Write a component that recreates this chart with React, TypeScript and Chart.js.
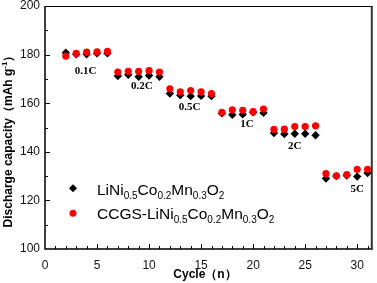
import React, { useEffect, useRef } from "react";
import { Chart, registerables } from "chart.js";

Chart.register(...registerables);

const cycles = [2, 3, 4, 5, 6, 7, 8, 9, 10, 11, 12, 13, 14, 15, 16, 17, 18, 19, 20, 21, 22, 23, 24, 25, 26, 27, 28, 29, 30, 31];
const pristine = [180.8, 180.1, 180.1, 180.5, 180.5, 171.2, 171.7, 170.9, 171.4, 170.9, 164.0, 163.3, 162.9, 163.0, 162.9, 155.8, 155.2, 155.4, 156.3, 156.0, 147.7, 147.3, 147.4, 147.4, 146.8, 129.0, 130.0, 130.2, 129.8, 131.3];
const ccgs = [179.4, 180.5, 181.0, 181.1, 181.3, 172.8, 173.1, 173.1, 173.4, 172.8, 165.9, 164.7, 165.2, 164.7, 164.0, 156.2, 157.3, 157.1, 156.5, 157.6, 149.2, 149.3, 150.4, 150.4, 150.7, 131.0, 130.1, 130.6, 132.8, 132.8];
const xTicks = [0, 5, 10, 15, 20, 25, 30];
const rateLabels = ["0.1C", "0.2C", "0.5C", "1C", "2C", "5C"];
const rateX = [3.9, 9.3, 13.9, 19.4, 24.0, 30.0];
const rateY = [173.3, 167.1, 158.4, 151.4, 142.5, 124.7];

const SANS = "'Liberation Sans', Arial, sans-serif";
const SERIF = "'Liberation Serif', 'Times New Roman', serif";

function drawFormula(ctx: CanvasRenderingContext2D, parts: [string, boolean][], x: number, y: number) {
  let cx = x;
  for (const [t, sub] of parts) {
    ctx.font = sub ? `10px ${SANS}` : `15.5px ${SANS}`;
    ctx.fillText(t, cx, sub ? y + 4 : y);
    cx += ctx.measureText(t).width;
  }
}

const decorPlugin = {
  id: "decor",
  afterDraw(chart: any) {
    const ctx: CanvasRenderingContext2D = chart.ctx;
    const { left, right, top, bottom } = chart.chartArea;
    const xs = chart.scales.x;
    const ys = chart.scales.y;
    ctx.save();
    ctx.strokeStyle = "#000";
    // frame
    ctx.lineWidth = 1.5;
    ctx.beginPath();
    ctx.moveTo(left, top);
    ctx.lineTo(left, bottom);
    ctx.lineTo(right, bottom);
    ctx.stroke();
    ctx.lineWidth = 1;
    ctx.beginPath();
    ctx.moveTo(left, top + 0.5);
    ctx.lineTo(right, top + 0.5);
    ctx.stroke();
    ctx.strokeStyle = "#333";
    ctx.lineWidth = 2;
    ctx.beginPath();
    ctx.moveTo(right - 1, top);
    ctx.lineTo(right - 1, bottom);
    ctx.stroke();
    // ticks
    ctx.strokeStyle = "#000";
    ctx.lineWidth = 1;
    for (let v = 1; v <= 31; v++) {
      const px = Math.round(xs.getPixelForValue(v)) + 0.5;
      const len = v % 5 === 0 ? 5 : 3;
      ctx.beginPath();
      ctx.moveTo(px, bottom);
      ctx.lineTo(px, bottom - len);
      ctx.stroke();
    }
    for (let v = 110; v < 200; v += 10) {
      const py = Math.round(ys.getPixelForValue(v)) + 0.5;
      const len = v % 20 === 0 ? 5 : 3;
      ctx.beginPath();
      ctx.moveTo(left, py);
      ctx.lineTo(left + len, py);
      ctx.stroke();
    }
    // rate labels
    ctx.fillStyle = "#000";
    ctx.font = `bold 11px ${SERIF}`;
    ctx.textAlign = "center";
    ctx.textBaseline = "middle";
    rateLabels.forEach((t, i) => {
      ctx.fillText(t, xs.getPixelForValue(rateX[i]), ys.getPixelForValue(rateY[i]));
    });
    // legend
    ctx.fillStyle = "#000";
    ctx.beginPath();
    const dx = 73, dy = 188.3, r = 4;
    ctx.moveTo(dx, dy - r);
    ctx.lineTo(dx + r, dy);
    ctx.lineTo(dx, dy + r);
    ctx.lineTo(dx - r, dy);
    ctx.closePath();
    ctx.fill();
    ctx.fillStyle = "#ff0000";
    ctx.beginPath();
    ctx.arc(73, 213.3, 3.5, 0, Math.PI * 2);
    ctx.fill();
    ctx.fillStyle = "#000";
    ctx.textAlign = "left";
    ctx.textBaseline = "alphabetic";
    drawFormula(ctx, [["LiNi", false], ["0.5", true], ["Co", false], ["0.2", true], ["Mn", false], ["0.3", true], ["O", false], ["2", true]], 97, 194.5);
    drawFormula(ctx, [["CCGS-LiNi", false], ["0.5", true], ["Co", false], ["0.2", true], ["Mn", false], ["0.3", true], ["O", false], ["2", true]], 97, 219);
    // axis titles
    ctx.font = `bold 12px ${SANS}`;
    ctx.textAlign = "center";
    ctx.textBaseline = "middle";
    ctx.fillText("Cycle（n）", 205, 275);
    ctx.save();
    ctx.translate(9, 138.5);
    ctx.rotate(-Math.PI / 2);
    const p1 = "Discharge capacity（mAh g";
    const p2 = "-1";
    const p3 = "）";
    ctx.font = `bold 12px ${SANS}`;
    const w1 = ctx.measureText(p1).width;
    const w3 = ctx.measureText(p3).width;
    ctx.font = `bold 8px ${SANS}`;
    const w2 = ctx.measureText(p2).width;
    let sx = -(w1 + w2 + w3) / 2;
    ctx.textAlign = "left";
    ctx.font = `bold 12px ${SANS}`;
    ctx.fillText(p1, sx, 0);
    sx += w1;
    ctx.font = `bold 8px ${SANS}`;
    ctx.fillText(p2, sx, -4);
    sx += w2;
    ctx.font = `bold 12px ${SANS}`;
    ctx.fillText(p3, sx, 0);
    ctx.restore();
    ctx.restore();
  },
};

export default function App() {
  const ref = useRef<HTMLCanvasElement>(null);
  useEffect(() => {
    if (!ref.current) return;
    const chart = new Chart(ref.current, {
      type: "scatter",
      data: {
        datasets: [
          {
            label: "CCGS-LiNi0.5Co0.2Mn0.3O2",
            data: cycles.map((c, i) => ({ x: c, y: ccgs[i] })),
            pointStyle: "circle",
            pointRadius: 3.6,
            pointBorderWidth: 0,
            backgroundColor: "#ff0000",
            borderColor: "#ff0000",
          },
          {
            label: "LiNi0.5Co0.2Mn0.3O2",
            data: cycles.map((c, i) => ({ x: c, y: pristine[i] })),
            pointStyle: "rectRot",
            pointRadius: 4.2,
            pointBorderWidth: 0,
            backgroundColor: "#000",
            borderColor: "#000",
          },
        ],
      },
      options: {
        animation: false,
        responsive: false,
        events: [],
        layout: { padding: { top: 6, right: 4, left: 0, bottom: 0 } },
        plugins: { legend: { display: false }, tooltip: { enabled: false } },
        scales: {
          x: {
            type: "linear",
            min: 0,
            max: 31.5,
            grid: { display: false, drawTicks: false },
            border: { display: false },
            afterBuildTicks: (s: any) => {
              s.ticks = xTicks.map((v) => ({ value: v }));
            },
            afterFit: (s: any) => {
              s.height = 34;
              s.paddingLeft = 0;
              s.paddingRight = 0;
            },
            ticks: { padding: 9, color: "#111", font: { size: 12, family: SANS }, maxRotation: 0, autoSkip: false },
          },
          y: {
            type: "linear",
            min: 100,
            max: 200,
            grid: { display: false, drawTicks: false },
            border: { display: false },
            afterFit: (s: any) => {
              s.width = 45;
              s.paddingTop = 0;
              s.paddingBottom = 0;
            },
            ticks: { stepSize: 20, padding: 5, color: "#111", font: { size: 12, family: SANS } },
          },
        },
      },
      plugins: [decorPlugin],
    });
    return () => chart.destroy();
  }, []);
  return (
    <div style={{ position: "fixed", left: 0, top: 0, width: 377, height: 283, background: "#fff" }}>
      <canvas ref={ref} width={377} height={283} />
    </div>
  );
}
